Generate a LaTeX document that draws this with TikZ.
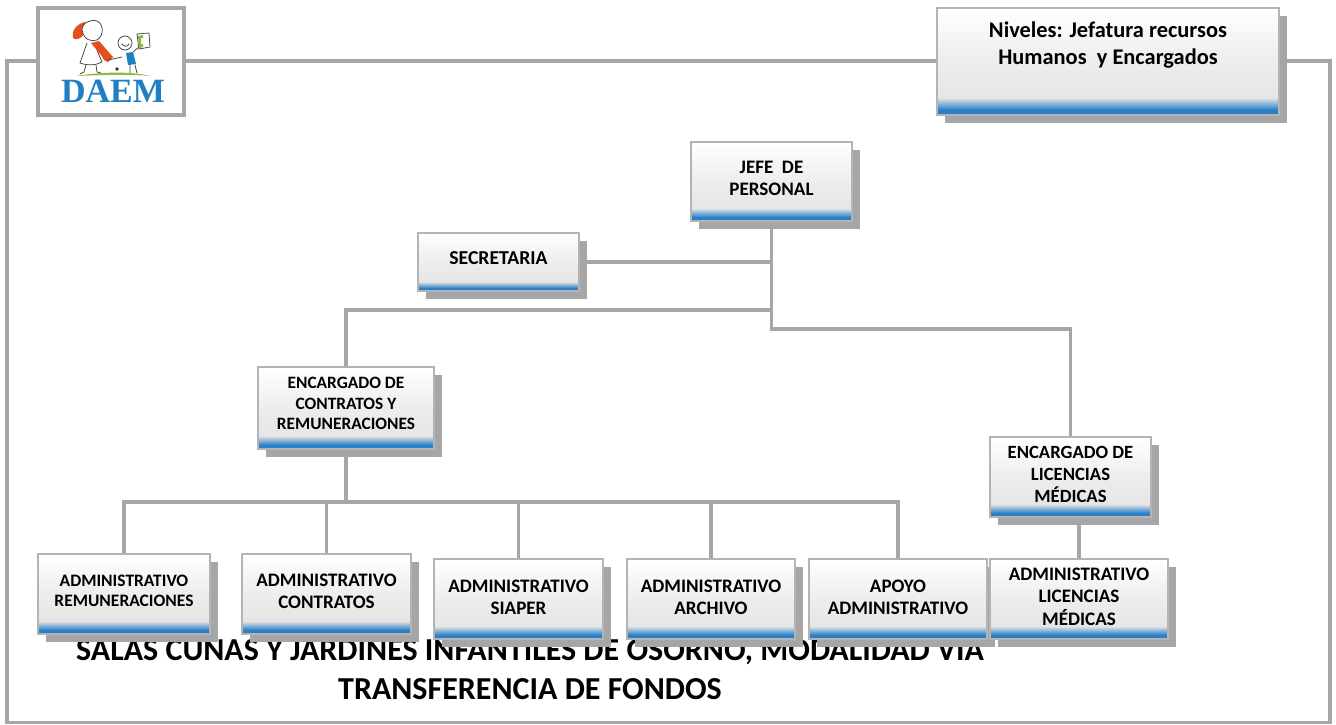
\documentclass[tikz,border=0pt]{standalone}
\usepackage{fontspec}
\setmainfont{Carlito}
\usetikzlibrary{shadows,backgrounds,calc}
\definecolor{linegray}{HTML}{A6A6A6}
\definecolor{edgegray}{HTML}{B4B4B4}
\definecolor{bandblue}{HTML}{2A80C8}
\definecolor{logoblue}{HTML}{1F7FC1}
\definecolor{logoorange}{HTML}{E2501E}
\definecolor{logogreen}{HTML}{8DBB3F}
\pgfdeclareverticalshading{boxfill}{100bp}{
  color(0bp)=(bandblue); color(25bp)=(bandblue); color(27.5bp)=(bandblue);
  color(33bp)=(black!10); color(50bp)=(black!7); color(75bp)=(white); color(100bp)=(white)}
\newcommand{\tx}[3][14.3]{\raisebox{#2pt}[\height][\depth]{\fontsize{#1}{16.5}\selectfont\begin{tabular}{@{}c@{}}#3\end{tabular}}}
\tikzset{
  x=0.75pt,y=-0.75pt,
  conn/.style={draw=linegray,line width=2.6pt,line join=miter},
  chart/.style={draw=edgegray,line width=1.3pt,shading=boxfill,inner sep=0pt,
    font=\bfseries,text=black,
    drop shadow={shadow xshift=6pt,shadow yshift=-6pt,opacity=1,fill=linegray}},
  size/.style 2 args={minimum width=#1*0.75pt,minimum height=#2*0.75pt},
  logoline/.style={draw=black!75,line width=0.55pt,line cap=round,line join=round},
}
\begin{document}
\begin{tikzpicture}
\useasboundingbox (0,0) rectangle (1336,725);

% boxes
\node[conn,fill=white,size={146}{107}] (logo) at (111,61.5) {};
\node[chart,size={342}{107}] (niveles) at (1108,61.5) {\tx[16.8]{11.3}{Niveles: Jefatura recursos\\[3.5pt] Humanos~ y Encargados}};
\node[chart,size={161}{79}] (jefe) at (771.5,181.5) {\tx{0.7}{JEFE~ DE\\PERSONAL}};
\node[chart,size={161}{58}] (secretaria) at (498.5,262) {\tx[14.8]{1.1}{SECRETARIA}};
\node[chart,size={176}{82}] (contratos) at (346,408) {\tx[13]{2.5}{ENCARGADO DE\\[-1pt]CONTRATOS Y\\[-1pt]REMUNERACIONES}};
\node[chart,size={161}{80}] (licencias) at (1070.5,477) {\tx[14]{0.8}{ENCARGADO DE\\LICENCIAS\\MÉDICAS}};
\node[chart,size={172}{80}] (adrem) at (124,594) {\tx[13.1]{1.5}{ADMINISTRATIVO\\[-1pt]REMUNERACIONES}};
\node[chart,size={169}{80}] (adcon) at (326.5,594) {\tx{0.8}{ADMINISTRATIVO\\CONTRATOS}};
\node[chart,size={169}{80}] (adsia) at (518.5,599) {\tx{0.1}{ADMINISTRATIVO\\SIAPER}};
\node[chart,size={168}{80}] (adarc) at (711,599) {\tx{0.1}{ADMINISTRATIVO\\ARCHIVO}};
\node[chart,size={178}{80}] (apoyo) at (898,599) {\tx{0.1}{APOYO\\ADMINISTRATIVO}};
\node[chart,size={178}{80}] (adlic) at (1079,599) {\tx{0.1}{ADMINISTRATIVO\\LICENCIAS\\MÉDICAS}};

\coordinate (j1) at (771.5,329);
\coordinate (j2) at (771.5,310);
\coordinate (j3) at (346,502);

\begin{scope}[on background layer]
  % outer frame
  \draw[conn] (logo.west |- 0,61) -- (7,61) -- (7,722.5) -- (1330,722.5) -- (1330,61) -- (niveles.east |- 0,61);
  \draw[conn] (logo.east |- 0,61) -- (niveles.west |- 0,61);
  % title behind the boxes
  \node[font=\fontsize{24}{29}\selectfont\bfseries,align=center,text=black] (title) at (530,669.5)
    {SALAS CUNAS Y JARDINES INFANTILES DE OSORNO, MODALIDAD VIA\\[0.5pt]TRANSFERENCIA DE FONDOS};
  % connectors
  \draw[conn] (jefe.south) -- (j1) -| (licencias.north);
  \draw[conn] (secretaria.east) -- (secretaria.east -| jefe.south);
  \draw[conn] (j2) -| (contratos.north);
  \draw[conn] (contratos.south) -- (j3);
  \draw[conn] (adrem.north) |- (j3) -| (apoyo.north);
  \draw[conn] (adcon.north) -- (adcon.north |- j3);
  \draw[conn] (adsia.north) -- (adsia.north |- j3);
  \draw[conn] (adarc.north) -- (adarc.north |- j3);
  \draw[conn] (licencias.south -| adlic.north) -- (adlic.north);
\end{scope}

% logo artwork
\fill[logoorange] (85,22) .. controls (76,24) and (71,32) .. (73,38) .. controls (76,41) and (82,38) .. (84,34) .. controls (84,30) and (86,26) .. (85,22);
\draw[logoline,fill=white] (82,30) .. controls (82,22) and (92,19) .. (97,21) .. controls (104,24) and (104,36) .. (97,40) .. controls (91,42) and (84,40) .. (82,30);
\draw[logoline,fill=white] (87,43) -- (80,63) .. controls (88,66) and (97,65) .. (102,62) -- (94,43);
\fill[logoorange] (91,43) -- (99,41) -- (113,57) -- (108,62) -- (104,60) -- (101,55) -- cycle;
\draw[logoline] (86,65) -- (84,72) -- (80,74) (96,65) -- (97,72) -- (101,73);
\draw[logoline] (108,60) -- (122,57);
\draw[logoline,fill=white] (125,43) circle (7);
\draw[logoline] (122,44) .. controls (124,47) and (127,47) .. (129,44);
\fill[logoblue] (126,53) -- (133,52) -- (136,64) -- (128,65) -- cycle;
\draw[logoline] (130,65) -- (130,73) (135,65) -- (137,73);
\draw[logoline] (133,52) -- (139,47);
\draw[logoline,fill=white] (137,34) -- (149,33) -- (150,47) -- (139,49) -- cycle;
\fill[logogreen] (138,36) -- (143,35) -- (143,38) -- (141,38) -- (141,44) -- (143,44) -- (143,47) -- (139,48) -- cycle;
\fill[logogreen] (76,76) .. controls (100,72) and (130,71) .. (150,76) .. controls (130,74) and (100,75) .. (76,76);
\fill[black!80] (117,69) circle (1.8);
\node[text=logoblue,inner sep=0pt] (daem) at (113,91.5) {\setmainfont{Liberation Serif}\fontsize{25.5}{26}\selectfont\bfseries DAEM};
\end{tikzpicture}
\end{document}
